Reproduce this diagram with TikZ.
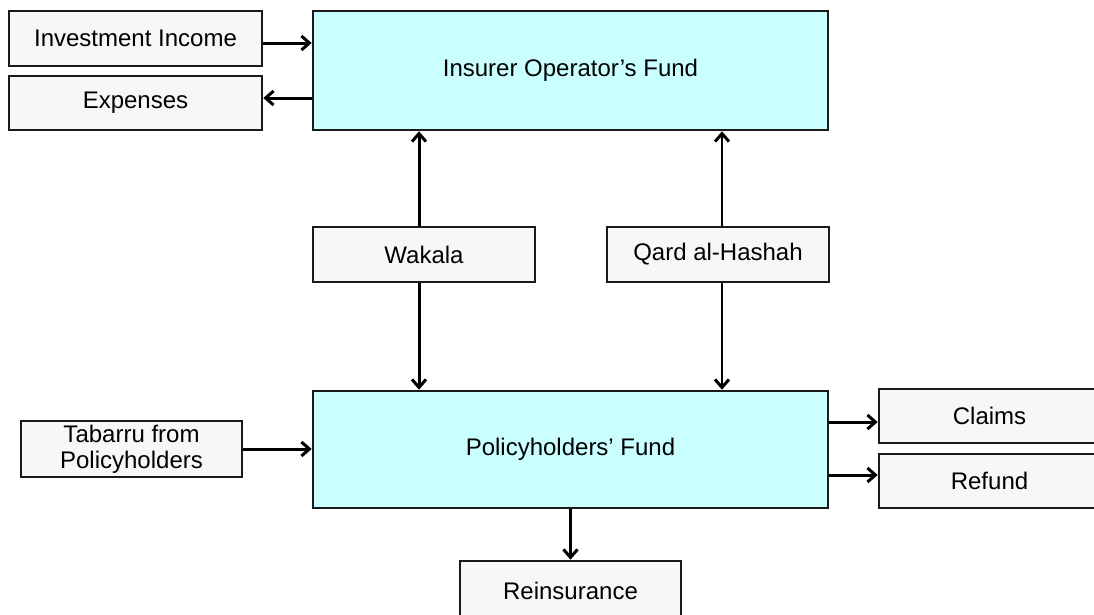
\documentclass[tikz,border=0pt]{standalone}
\usepackage{fontspec}
\setmainfont{Liberation Sans}
\usetikzlibrary{arrows.meta}
\definecolor{cyanfill}{HTML}{C9FFFF}
\definecolor{boxgray}{HTML}{F7F7F7}
\definecolor{edge}{HTML}{1A1A1A}
\begin{document}
\begin{tikzpicture}[x=1pt,y=-1pt,
  box/.style={draw=edge, line width=2.6pt, fill=boxgray, inner sep=0pt,
    font=\fontsize{24}{26}\selectfont, align=center},
  fund/.style={box, fill=cyanfill},
  arr/.style={-{Straight Barb[length=8pt,width=14pt,line width=3pt]}, line width=3pt},
  tarr/.style={arr, line width=2.5pt}]
\clip (0,0) rectangle (1094,614);
\fill[white] (0,0) rectangle (1094,614);

\node[box, minimum width=253, minimum height=55] (inv) at (135.5,38.5) {Investment Income};
\node[box, minimum width=253, minimum height=54] (exp) at (135.5,103) {Expenses};
\node[fund, minimum width=515, minimum height=119] (iof) at (570.5,70.5) {Insurer Operator’s Fund};
\node[box, minimum width=222, minimum height=55] (wak) at (424,254.5) {Wakala};
\node[box, minimum width=222, minimum height=55] (qard) at (718,254.5) {Qard al-Hashah};
\node[fund, minimum width=515, minimum height=117] (pf) at (570.5,449.5) {Policyholders’ Fund};
\node[box, minimum width=221, minimum height=56] (tab) at (131.5,449) {Tabarru from\\Policyholders};
\node[box, minimum width=221, minimum height=54] (claims) at (989.5,416) {Claims};
\node[box, minimum width=221, minimum height=54] (refund) at (989.5,481) {Refund};
\node[box, minimum width=221, minimum height=59] (reins) at (570.5,590.5) {Reinsurance};

\draw[arr] ([yshift=-4.5pt]inv.east) -- ([yshift=-4.5pt]inv.east -| iof.west);
\draw[arr] ([yshift=5pt]exp.east -| iof.west) -- ([yshift=5pt]exp.east);
\draw[arr] ([xshift=-5pt]wak.north) -- ([xshift=-5pt]wak.north |- iof.south);
\draw[arr] ([xshift=-5pt]wak.south) -- ([xshift=-5pt]wak.south |- pf.north);
\draw[tarr] ([xshift=4pt]qard.north) -- ([xshift=4pt]qard.north |- iof.south);
\draw[tarr] ([xshift=4pt]qard.south) -- ([xshift=4pt]qard.south |- pf.north);
\draw[arr] (tab.east) -- (tab.east -| pf.west);
\draw[arr] ([yshift=-6pt]claims.west -| pf.east) -- ([yshift=-6pt]claims.west);
\draw[arr] ([yshift=6pt]refund.west -| pf.east) -- ([yshift=6pt]refund.west);
\draw[tarr] (pf.south -| reins.north) -- (reins.north);
\end{tikzpicture}
\end{document}
